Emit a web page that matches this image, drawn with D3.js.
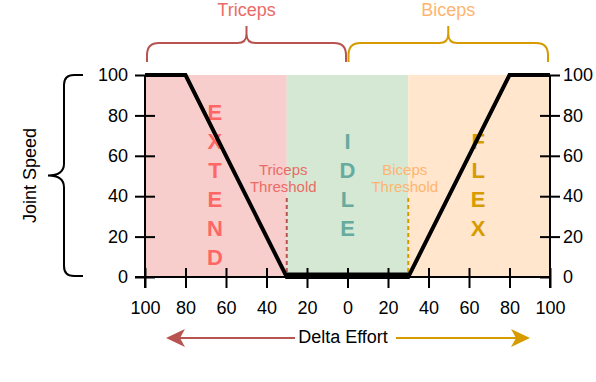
<!DOCTYPE html>
<html>
<head>
<meta charset="utf-8">
<script src="https://cdn.jsdelivr.net/npm/d3@7"></script>
<style>
  html, body { margin: 0; padding: 0; background: #fff; }
  svg { display: block; }
</style>
</head>
<body>
<svg id="chart" width="596" height="382"></svg>
<script>
// ---------- data ----------
const effortTicks = [-100, -80, -60, -40, -20, 0, 20, 40, 60, 80, 100];
const speedTicks = [0, 20, 40, 60, 80, 100];
const curveEffort = [-100, -80, -30, 30, 80, 100];
const curveSpeed = [100, 100, 0, 0, 100, 100];
const zoneStart = [-100, -30, 30];
const zoneEnd = [-30, 30, 100];
const zoneColors = ["#F8CECC", "#D5E8D4", "#FFE6CC"];
const thresholdValues = [-30, 30];
const thresholdLabels = [["Triceps", "Threshold"], ["Biceps", "Threshold"]];
const muscleLabels = ["Triceps", "Biceps"];
const modeWords = ["EXTEND", "IDLE", "FLEX"];
const modeCenters = [-65.5, 0, 64.5];
const xAxisTitle = "Delta Effort";
const yAxisTitle = "Joint Speed";

// ---------- setup ----------
const FONT = "'Liberation Sans', Arial, Helvetica, sans-serif";
const svg = d3.select("#chart");
const x = d3.scaleLinear().domain([-100, 100]).range([145, 550]);
const y = d3.scaleLinear().domain([0, 100]).range([277, 75]);

// zones
svg.append("g").selectAll("rect")
  .data(zoneStart.map((s, i) => ({ s, e: zoneEnd[i], c: zoneColors[i] })))
  .join("rect")
  .attr("x", d => x(d.s))
  .attr("y", y(100))
  .attr("width", d => x(d.e) - x(d.s))
  .attr("height", y(0) - y(100))
  .attr("fill", d => d.c);

// threshold dashed lines
const threshColors = ["#B85450", "#D79B00"];
const threshTextColors = ["#EA6B66", "#FFB570"];
svg.append("g").selectAll("line")
  .data(thresholdValues)
  .join("line")
  .attr("x1", d => x(d)).attr("x2", d => x(d))
  .attr("y1", 198).attr("y2", y(0))
  .attr("stroke", (d, i) => threshColors[i])
  .attr("stroke-width", 2)
  .attr("stroke-dasharray", "4,3");

thresholdValues.forEach((v, i) => {
  const t = svg.append("text")
    .attr("x", x(v) - 3.5)
    .attr("y", 175)
    .attr("text-anchor", "middle")
    .attr("font-family", FONT)
    .attr("font-size", 15)
    .attr("fill", threshTextColors[i]);
  thresholdLabels[i].forEach((line, k) => {
    t.append("tspan").attr("x", x(v) - 3.5).attr("y", 175 + k * 17).text(line);
  });
});

// mode words (vertical letters)
const modeColors = ["#FF6666", "#67AB9F", "#D79B00"];
modeWords.forEach((w, i) => {
  const letters = w.split("");
  const step = 29;
  const start = 184.5 - (letters.length - 1) / 2 * step;
  svg.append("g").selectAll("text")
    .data(letters)
    .join("text")
    .attr("x", x(modeCenters[i]))
    .attr("y", (d, k) => start + 8 + k * step)
    .attr("text-anchor", "middle")
    .attr("font-family", FONT)
    .attr("font-weight", "bold")
    .attr("font-size", 22)
    .attr("fill", modeColors[i])
    .text(d => d);
});

// axes
const gL = svg.append("g")
  .attr("transform", `translate(${x(-100)},0)`)
  .call(d3.axisLeft(y).tickValues(speedTicks).tickSize(0).tickPadding(17));
const gR = svg.append("g")
  .attr("transform", `translate(${x(100)},0)`)
  .call(d3.axisRight(y).tickValues(speedTicks).tickSize(0).tickPadding(13));
const gB = svg.append("g")
  .attr("transform", `translate(0,${y(0)})`)
  .call(d3.axisBottom(x).tickValues(effortTicks).tickFormat(d => Math.abs(d)).tickSize(0).tickPadding(24));

[gL, gR, gB].forEach(g => {
  g.select(".domain").remove();
  g.attr("font-size", 18).attr("font-family", FONT);
  g.selectAll("text").attr("fill", "#000");
  g.selectAll(".tick line").attr("stroke", "#000").attr("stroke-width", 2);
});
gL.selectAll(".tick line").attr("x1", -10).attr("x2", 10);
gR.selectAll(".tick line").attr("x1", -10).attr("x2", d => d === 0 ? 0 : 10);
gB.selectAll(".tick line").attr("y1", -9).attr("y2", 11);

// axis lines
svg.append("line").attr("x1", x(-100)).attr("x2", x(-100)).attr("y1", y(100)).attr("y2", y(0) + 11)
  .attr("stroke", "#000").attr("stroke-width", 2);
svg.append("line").attr("x1", x(100)).attr("x2", x(100)).attr("y1", y(100)).attr("y2", y(0) + 11)
  .attr("stroke", "#000").attr("stroke-width", 2);
svg.append("line").attr("x1", x(-100) - 10).attr("x2", x(100) + 1).attr("y1", y(0)).attr("y2", y(0))
  .attr("stroke", "#000").attr("stroke-width", 2);

// speed curve
const pts = curveEffort.map((e, i) => ({ e, s: curveSpeed[i] }));
svg.append("path")
  .datum(pts)
  .attr("d", d3.line().x(d => x(d.e)).y(d => y(d.s)))
  .attr("fill", "none")
  .attr("stroke", "#000")
  .attr("stroke-width", 4)
  .attr("stroke-linejoin", "miter");
const idle = pts.filter(d => d.s === 0);
svg.append("path")
  .datum(idle)
  .attr("d", d3.line().x(d => x(d.e)).y(d => y(d.s) - 1.5))
  .attr("fill", "none")
  .attr("stroke", "#000")
  .attr("stroke-width", 6);

// braces
function hBrace(x0, x1, yEnd, yBar, yTip, r, rm) {
  const m = (x0 + x1) / 2;
  return `M${x0},${yEnd} L${x0},${yBar + r} Q${x0},${yBar} ${x0 + r},${yBar} L${m - rm},${yBar} Q${m},${yBar} ${m},${yBar - rm} L${m},${yTip} ` +
         `M${m},${yBar - rm} Q${m},${yBar} ${m + rm},${yBar} L${x1 - r},${yBar} Q${x1},${yBar} ${x1},${yBar + r} L${x1},${yEnd}`;
}
const braceColors = ["#B85450", "#D79B00"];
const labelColors = ["#EA6B66", "#FFB570"];
const braceRanges = [[x(-100) + 2, x(0) - 1.5], [x(0) + 1, x(100) - 2]];
braceRanges.forEach((r, i) => {
  svg.append("path")
    .attr("d", hBrace(r[0], r[1], 62, 43, 26, 12, 9))
    .attr("fill", "none")
    .attr("stroke", braceColors[i])
    .attr("stroke-width", 2);
  svg.append("text")
    .attr("x", (r[0] + r[1]) / 2)
    .attr("y", 16)
    .attr("text-anchor", "middle")
    .attr("font-family", FONT)
    .attr("font-size", 18)
    .attr("fill", labelColors[i])
    .text(muscleLabels[i]);
});

// vertical brace for y
(function () {
  const xe = 83, xb = 64, xt = 48, y0 = y(100), y1 = y(0) - 1, r = 10, rm = 12;
  const m = (y0 + y1) / 2;
  const d = `M${xe},${y0} L${xb + r},${y0} Q${xb},${y0} ${xb},${y0 + r} L${xb},${m - rm} Q${xb},${m} ${xt},${m} ` +
            `M${xt},${m} Q${xb},${m} ${xb},${m + rm} L${xb},${y1 - r} Q${xb},${y1} ${xb + r},${y1} L${xe},${y1}`;
  svg.append("path").attr("d", d).attr("fill", "none").attr("stroke", "#000").attr("stroke-width", 2);
  svg.append("text")
    .attr("transform", `translate(30,${m}) rotate(-90)`)
    .attr("text-anchor", "middle")
    .attr("dy", "0.35em")
    .attr("font-family", FONT)
    .attr("font-size", 18)
    .attr("fill", "#000")
    .text(yAxisTitle);
})();

// Delta Effort arrows
const ay = 338;
svg.append("line").attr("x1", 180).attr("x2", 295).attr("y1", ay).attr("y2", ay)
  .attr("stroke", "#B85450").attr("stroke-width", 2);
svg.append("path").attr("d", `M166,${ay} L185,${ay - 9} L180,${ay} L185,${ay + 9} Z`).attr("fill", "#B85450");
svg.append("line").attr("x1", 396).attr("x2", 516).attr("y1", ay).attr("y2", ay)
  .attr("stroke", "#D79B00").attr("stroke-width", 2);
svg.append("path").attr("d", `M530,${ay} L511,${ay - 9} L516,${ay} L511,${ay + 9} Z`).attr("fill", "#D79B00");
svg.append("text")
  .attr("x", 343).attr("y", 343)
  .attr("text-anchor", "middle")
  .attr("font-family", FONT)
  .attr("font-size", 18)
  .attr("fill", "#000")
  .text(xAxisTitle);
</script>
</body>
</html>
